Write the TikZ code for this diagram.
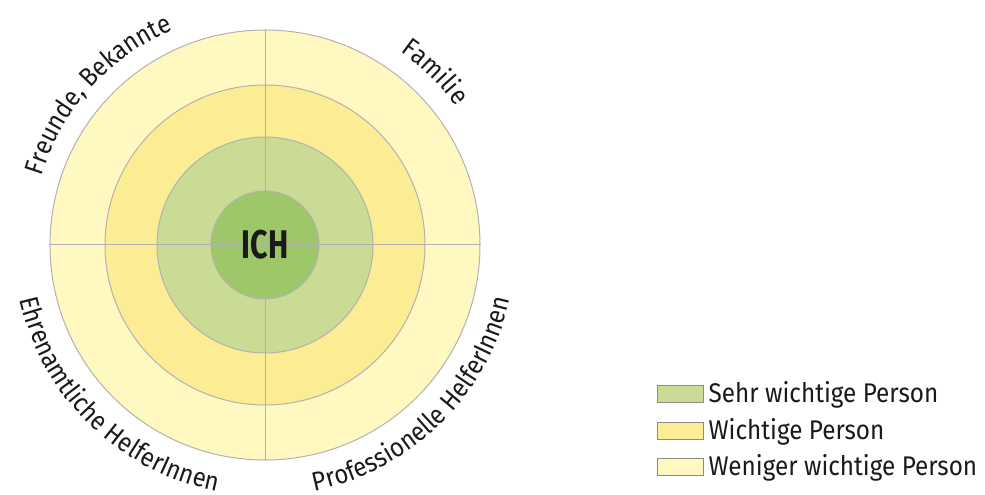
\documentclass[tikz,border=0pt]{standalone}
\usepackage{fontspec}
\setmainfont[FakeStretch=0.9]{Fira Sans}
\newfontfamily\ichfamily[FakeStretch=0.76]{Fira Sans}
\usetikzlibrary{decorations.text}
\definecolor{ringA}{RGB}{255,248,192}
\definecolor{ringB}{RGB}{252,236,148}
\definecolor{ringC}{RGB}{201,219,148}
\definecolor{ringD}{RGB}{157,199,104}
\definecolor{lineg}{RGB}{178,178,178}
\definecolor{boxg}{RGB}{140,140,130}
\definecolor{txt}{RGB}{26,26,26}
\newcommand\arcfont{\fontsize{26.5}{26.5}\selectfont\color{txt}}
\newcommand\legfont{\fontsize{27}{27}\selectfont}
\begin{document}
\begin{tikzpicture}[x=1pt,y=1pt,
  ring/.style={circle, draw=lineg, line width=1pt, inner sep=0pt},
  cross/.style={draw=lineg, line width=1pt},
  legbox/.style={rectangle, draw=boxg, line width=0.8pt, minimum width=46pt, minimum height=17pt, inner sep=0pt},
  legtext/.style={anchor=base west, font=\legfont, text=txt, inner sep=0pt},
  arclabel/.style={decorate, decoration={text along path, text align=center, text={|\arcfont|#1}}}]
\useasboundingbox (-265,-250) rectangle (720,245);
\node[ring, fill=ringA, minimum size=430pt] (outer) at (0,0) {};
\node[ring, fill=ringB, minimum size=320pt] (middle) at (0,0) {};
\node[ring, fill=ringC, minimum size=216pt] (inner) at (0,0) {};
\node[ring, fill=ringD, minimum size=108pt] (core) at (0,0) {};
\draw[cross] (outer.west) -- (outer.east);
\draw[cross] (outer.north) -- (outer.south);
\node[font=\ichfamily\fontsize{40}{40}\selectfont\bfseries, text=txt, inner sep=0pt] (ich) at (0,0) {ICH};
% arc labels
\path[arclabel={Freunde, Bekannte}] (168:234) arc (168:108:234);
\path[arclabel={Familie}] (75:236) arc (75:16:236);
\path[arclabel={Ehrenamtliche HelferInnen}] (180:251) arc (180:271.5:251);
\path[arclabel={Professionelle HelferInnen}] (-92:251) arc (-92:1:251);
% legend
\node[legbox, fill=ringC] (k1) at (415,-149) {};
\node[legbox, fill=ringB] (k2) at (415,-186) {};
\node[legbox, fill=ringA] (k3) at (415,-222) {};
\node[legtext] (t1) at ([xshift=5pt]k1.south east) {Sehr wichtige Person};
\node[legtext] (t2) at ([xshift=5pt]k2.south east) {Wichtige Person};
\node[legtext] (t3) at ([xshift=5pt]k3.south east) {Weniger wichtige Person};
\end{tikzpicture}
\end{document}
